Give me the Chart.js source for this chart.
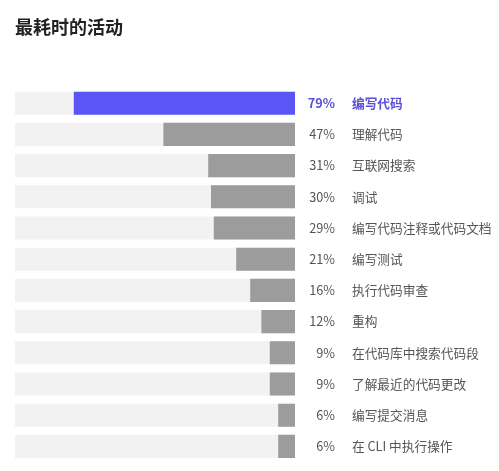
<!DOCTYPE html>
<html lang="zh">
<head>
<meta charset="UTF-8" />
<title>最耗时的活动</title>
<script src="https://cdn.jsdelivr.net/npm/chart.js"></script>
<style>
  html, body { margin: 0; padding: 0; background: #fff; }
  #wrap { width: 499px; height: 471px; }
</style>
</head>
<body>
<div id="wrap"><canvas id="chart"></canvas></div>
<script>
const activities = [
  "编写代码", "理解代码", "互联网搜索", "调试", "编写代码注释或代码文档",
  "编写测试", "执行代码审查", "重构", "在代码库中搜索代码段",
  "了解最近的代码更改", "编写提交消息", "在 CLI 中执行操作"
];
const shares = [79, 47, 31, 30, 29, 21, 16, 12, 9, 9, 6, 6];
const track = shares.map(() => 100);

const highlight = "#5b55f6";
const highlightText = "#5a4fd6";
const barGray = "#9c9c9c";
const trackGray = "#f2f2f2";
const textGray = "#555555";
const cjk = "'Noto Sans CJK SC', 'Noto Sans', sans-serif";

// draws the percent and the activity name beside each row
const sideLabels = {
  id: "sideLabels",
  afterDatasetsDraw(chart) {
    const ctx = chart.ctx;
    const y = chart.scales.y;
    const right = chart.chartArea.right;
    ctx.save();
    ctx.textBaseline = "middle";
    activities.forEach((name, i) => {
      const py = y.getPixelForValue(i);
      const first = i === 0;
      ctx.fillStyle = first ? highlightText : textGray;
      ctx.font = (first ? "bold " : "") + "12.7px " + cjk;
      ctx.textAlign = "right";
      ctx.fillText(shares[i] + "%", right + 40, py);
      ctx.textAlign = "left";
      ctx.fillText(name, right + 57, py);
    });
    ctx.restore();
  }
};

new Chart(document.getElementById("chart"), {
  type: "bar",
  data: {
    labels: activities,
    datasets: [
      {
        data: shares,
        backgroundColor: shares.map((v, i) => (i === 0 ? highlight : barGray)),
        grouped: false,
        order: 0
      },
      {
        data: track,
        backgroundColor: trackGray,
        grouped: false,
        order: 1
      }
    ]
  },
  options: {
    indexAxis: "y",
    responsive: true,
    maintainAspectRatio: false,
    animation: false,
    categoryPercentage: 1,
    barPercentage: 0.74,
    layout: { padding: { left: 15, right: 204, top: 0, bottom: 9 } },
    scales: {
      x: { display: false, reverse: true, min: 0, max: 100 },
      y: { display: false }
    },
    plugins: {
      legend: { display: false },
      tooltip: { enabled: false },
      title: {
        display: true,
        text: "最耗时的活动",
        align: "start",
        color: "#222222",
        font: { family: cjk, size: 18, weight: "bold" },
        padding: { top: 16, bottom: 50 }
      }
    }
  },
  plugins: [sideLabels]
});
</script>
</body>
</html>
